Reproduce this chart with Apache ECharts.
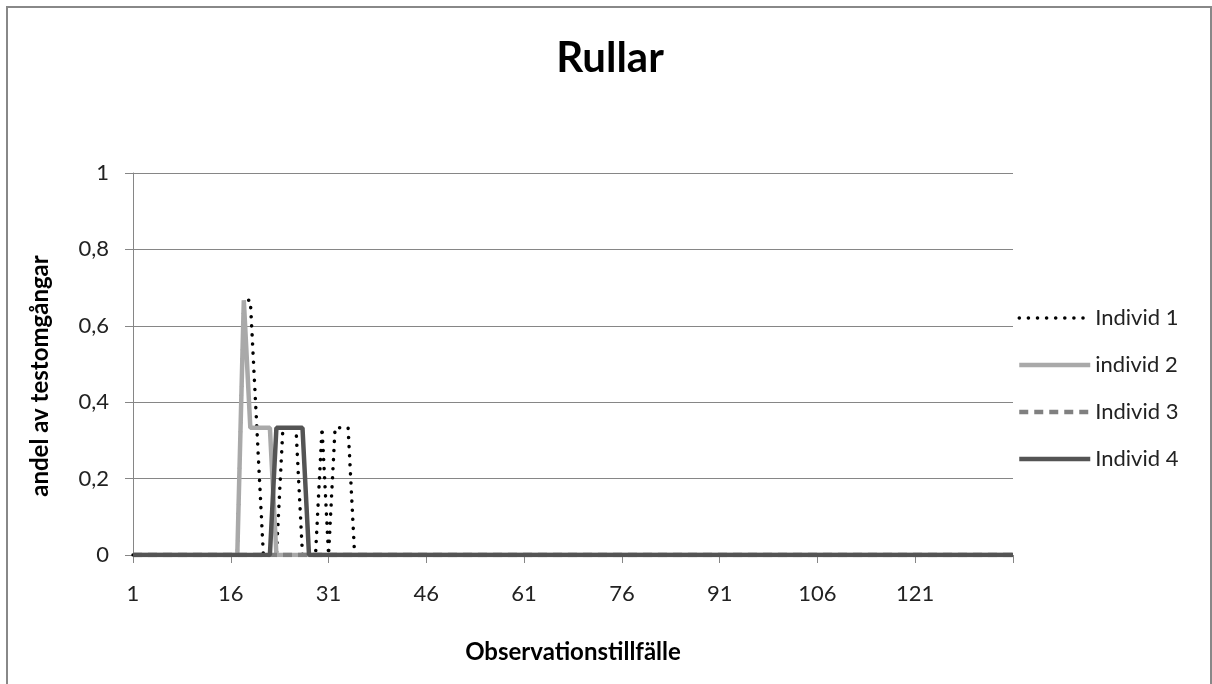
<!DOCTYPE html>
<html>
<head>
<meta charset="utf-8">
<script src="https://cdn.jsdelivr.net/npm/echarts@6/dist/echarts.min.js"></script>
<style>
html,body{margin:0;padding:0;background:#fff;}
#chart{width:1212px;height:684px;}
</style>
</head>
<body>
<div id="chart"></div>
<script>
// ---- data ----
var categories = [];
for (var i = 1; i <= 136; i++) categories.push(String(i));

var seriesNames = ['Individ 1', 'individ 2', 'Individ 3', 'Individ 4'];

var individ1 = [
  0,0,0,0,0,0,0,0,0,0, 0,0,0,0,0,0,0,0.667,0.667,0.333,
  0,0,0,0.333,0.333,0.333,0,0,0,0.333, 0,0.333,0.333,0.333,0,0,0,0,0,0,
  0,0,0,0,0,0,0,0,0,0, 0,0,0,0,0,0,0,0,0,0,
  0,0,0,0,0,0,0,0,0,0, 0,0,0,0,0,0,0,0,0,0,
  0,0,0,0,0,0,0,0,0,0, 0,0,0,0,0,0,0,0,0,0,
  0,0,0,0,0,0,0,0,0,0, 0,0,0,0,0,0,0,0,0,0,
  0,0,0,0,0,0,0,0,0,0, 0,0,0,0,0,0
];
var individ2 = [
  0,0,0,0,0,0,0,0,0,0, 0,0,0,0,0,0,0,0.667,0.333,0.333,
  0.333,0.333,0,0,0,0,0,0,0,0, 0,0,0,0,0,0,0,0,0,0,
  0,0,0,0,0,0,0,0,0,0, 0,0,0,0,0,0,0,0,0,0,
  0,0,0,0,0,0,0,0,0,0, 0,0,0,0,0,0,0,0,0,0,
  0,0,0,0,0,0,0,0,0,0, 0,0,0,0,0,0,0,0,0,0,
  0,0,0,0,0,0,0,0,0,0, 0,0,0,0,0,0,0,0,0,0,
  0,0,0,0,0,0,0,0,0,0, 0,0,0,0,0,0
];
var individ3 = [
  0,0,0,0,0,0,0,0,0,0, 0,0,0,0,0,0,0,0,0,0,
  0,0,0,0,0,0,0,0,0,0, 0,0,0,0,0,0,0,0,0,0,
  0,0,0,0,0,0,0,0,0,0, 0,0,0,0,0,0,0,0,0,0,
  0,0,0,0,0,0,0,0,0,0, 0,0,0,0,0,0,0,0,0,0,
  0,0,0,0,0,0,0,0,0,0, 0,0,0,0,0,0,0,0,0,0,
  0,0,0,0,0,0,0,0,0,0, 0,0,0,0,0,0,0,0,0,0,
  0,0,0,0,0,0,0,0,0,0, 0,0,0,0,0,0
];
var individ4 = [
  0,0,0,0,0,0,0,0,0,0, 0,0,0,0,0,0,0,0,0,0,
  0,0,0.333,0.333,0.333,0.333,0.333,0,0,0, 0,0,0,0,0,0,0,0,0,0,
  0,0,0,0,0,0,0,0,0,0, 0,0,0,0,0,0,0,0,0,0,
  0,0,0,0,0,0,0,0,0,0, 0,0,0,0,0,0,0,0,0,0,
  0,0,0,0,0,0,0,0,0,0, 0,0,0,0,0,0,0,0,0,0,
  0,0,0,0,0,0,0,0,0,0, 0,0,0,0,0,0,0,0,0,0,
  0,0,0,0,0,0,0,0,0,0, 0,0,0,0,0,0
];

var titleText = 'Rullar';
var xTitle = 'Observationstillfälle';
var yTitle = 'andel av testomgångar';

// ---- chart ----
var FONT = 'Lato';
var chart = echarts.init(document.getElementById('chart'), null, {renderer: 'canvas'});

var option = {
  backgroundColor: '#ffffff',
  animation: false,
  grid: {left: 133, right: 199, top: 173, bottom: 129},
  xAxis: {
    type: 'category',
    data: categories,
    boundaryGap: false,
    axisLine: {lineStyle: {color: '#868686', width: 1}},
    axisTick: {
      length: 8,
      lineStyle: {color: '#868686'},
      interval: function (idx) { return idx % 15 === 0; }
    },
    axisLabel: {
      fontFamily: FONT, fontSize: 22, color: '#222', margin: 28,
      interval: function (idx) { return idx % 15 === 0 && idx < 130; }
    },
    splitLine: {show: false}
  },
  yAxis: {
    type: 'value',
    min: 0, max: 1, interval: 0.2,
    axisLine: {show: true, lineStyle: {color: '#868686', width: 1}},
    axisTick: {show: true, length: 8, lineStyle: {color: '#868686'}},
    axisLabel: {
      fontFamily: FONT, fontSize: 22, color: '#222', margin: 24,
      formatter: function (v) { return String(Math.round(v * 10) / 10).replace('.', ','); }
    },
    splitLine: {lineStyle: {color: '#868686', width: 1}}
  },
  legend: {
    orient: 'vertical',
    left: 1017,
    top: 307,
    padding: 0,
    itemWidth: 71,
    itemHeight: 22,
    itemGap: 25,
    itemStyle: {opacity: 0},
    lineStyle: {width: 'inherit'},
    textStyle: {fontFamily: FONT, fontSize: 22, color: '#222'},
    data: seriesNames
  },
  series: [
    {
      name: seriesNames[0], type: 'line', data: individ1, symbol: 'none',
      lineStyle: {color: '#000000', width: 3.5, type: [0.1, 9], cap: 'round'},
      itemStyle: {color: '#000000'}
    },
    {
      name: seriesNames[1], type: 'line', data: individ2, symbol: 'none',
      lineStyle: {color: '#A9A9A9', width: 4.5},
      itemStyle: {color: '#A9A9A9'}
    },
    {
      name: seriesNames[2], type: 'line', data: individ3, symbol: 'none',
      lineStyle: {color: '#808080', width: 4.5, type: [9, 6]},
      itemStyle: {color: '#808080'}
    },
    {
      name: seriesNames[3], type: 'line', data: individ4, symbol: 'none',
      lineStyle: {color: '#545454', width: 4.5},
      itemStyle: {color: '#545454'}
    }
  ],
  graphic: [
    {
      type: 'rect', silent: true, z: -1,
      shape: {x: 7, y: 7, width: 1204, height: 700},
      style: {fill: 'none', stroke: '#888888', lineWidth: 2}
    },
    {
      type: 'text', x: 610, y: 58,
      style: {text: titleText, fontFamily: FONT, fontWeight: 'bold', fontSize: 42,
              fill: '#000', textAlign: 'center', textVerticalAlign: 'middle'}
    },
    {
      type: 'text', x: 573, y: 652,
      style: {text: xTitle, fontFamily: FONT, fontWeight: 'bold', fontSize: 24,
              fill: '#000', textAlign: 'center', textVerticalAlign: 'middle'}
    },
    {
      type: 'text', x: 40, y: 376, rotation: Math.PI / 2,
      style: {text: yTitle, fontFamily: FONT, fontWeight: 'bold', fontSize: 24,
              fill: '#000', textAlign: 'center', textVerticalAlign: 'middle'}
    }
  ]
};
chart.setOption(option);
</script>
</body>
</html>
